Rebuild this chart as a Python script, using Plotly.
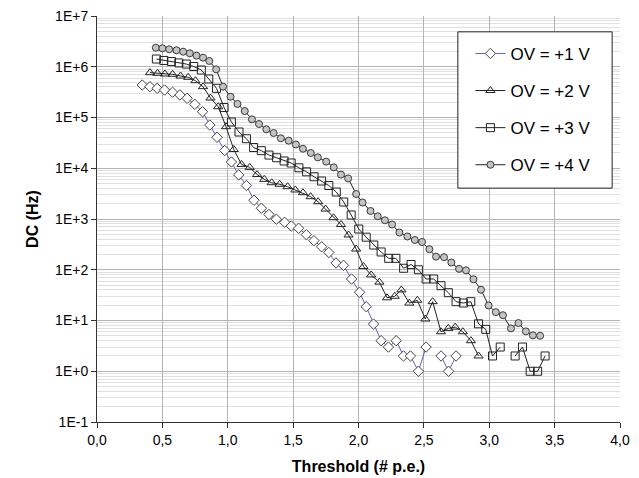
import plotly.graph_objects as go

# ---- data ----
x_ov1 = [0.346, 0.405, 0.460, 0.517, 0.578, 0.634, 0.689, 0.748, 0.807, 0.863,
         0.918, 0.977, 1.028, 1.084, 1.143, 1.201, 1.257, 1.315, 1.372, 1.435,
         1.486, 1.542, 1.601, 1.659, 1.718, 1.773, 1.828, 1.885, 1.947, 2.008,
         2.059, 2.115, 2.173, 2.229, 2.288, 2.344, 2.397, 2.458, 2.517, 2.573,
         2.631, 2.689, 2.746]
dc_ov1 = [4.37e5, 4.05e5, 3.76e5, 3.48e5, 3.14e5, 2.78e5, 2.39e5, 1.82e5, 1.30e5, 7.1e4,
          4.07e4, 2.24e4, 1.33e4, 7.4e3, 4.57e3, 2.34e3, 1.63e3, 1.23e3, 991, 861,
          728, 656, 491, 374, 284, 219, 136, 122, 65.7, 36,
          18.7, 8.5, 4, 3, 4, 2, 2, 1, 3, None,
          2, 1, 2]

x_ov2 = [0.405, 0.463, 0.519, 0.578, 0.639, 0.697, 0.753, 0.811, 0.868, 0.927,
         0.987, 1.046, 1.105, 1.168, 1.224, 1.279, 1.336, 1.397, 1.458, 1.517,
         1.575, 1.634, 1.691, 1.748, 1.809, 1.866, 1.924, 1.982, 2.038, 2.097,
         2.160, 2.218, 2.277, 2.328, 2.389, 2.450, 2.511, 2.567, 2.631, 2.687,
         2.740, 2.798, 2.860, 2.918]
dc_ov2 = [7.64e5, 7.43e5, 7.2e5, 7.1e5, 6.57e5, 6.19e5, 5.31e5, 4.05e5, 2.42e5, 1.63e5,
          6.59e4, 2.34e4, 1.19e4, 1.04e4, 7.53e3, 6.05e3, 5.19e3, 4.83e3, 4.33e3, 3.73e3,
          3.3e3, 2.75e3, 2.19e3, 1.57e3, 1.06e3, 780, 484, 256, 116, 79,
          57, 28, 30, 40, 22, 25, 10.7, 23.5, 6, 7,
          7.4, 6, 4, 2]

x_ov3 = [0.454, 0.511, 0.569, 0.626, 0.683, 0.740, 0.798, 0.855, 0.914, 0.972,
         1.028, 1.086, 1.143, 1.198, 1.257, 1.315, 1.374, 1.431, 1.485, 1.544,
         1.603, 1.660, 1.718, 1.773, 1.830, 1.887, 1.944, 2.002, 2.059, 2.117,
         2.173, 2.231, 2.286, 2.345, 2.402, 2.458, 2.517, 2.575, 2.631, 2.687,
         2.746, 2.802, 2.859, 2.918, 2.973, 3.025, 3.084, 3.141, 3.198, 3.254,
         3.313, 3.370, 3.427]
dc_ov3 = [1.42e6, 1.33e6, 1.27e6, 1.19e6, 1.13e6, 1.01e6, 8.63e5, 5.74e5, 3.76e5, 1.57e5,
          8.15e4, 5.18e4, 3.82e4, 2.56e4, 2.22e4, 1.82e4, 1.61e4, 1.39e4, 1.27e4, 1.02e4,
          8.5e3, 6.8e3, 5.6e3, 4.57e3, 3.4e3, 2.16e3, 1.2e3, 635, 438, 307,
          224, 168, 168, 107, 127, 100, 65.7, 65.7, 48.5, 35.3,
          23.5, 22.1, 23.5, 8.6, 6.7, 2, 3, None, 2, 3,
          1, 1, 2]

x_ov4 = [0.450, 0.500, 0.552, 0.608, 0.659, 0.710, 0.761, 0.811, 0.859, 0.911,
         0.964, 1.021, 1.074, 1.130, 1.185, 1.239, 1.295, 1.351, 1.406, 1.466,
         1.521, 1.575, 1.635, 1.689, 1.753, 1.811, 1.866, 1.921, 1.982, 2.031,
         2.092, 2.147, 2.202, 2.257, 2.313, 2.374, 2.431, 2.486, 2.542, 2.593,
         2.654, 2.710, 2.769, 2.822, 2.879, 2.937, 2.995, 3.050, 3.105, 3.166,
         3.223, 3.280, 3.334, 3.389]
dc_ov4 = [2.37e6, 2.31e6, 2.21e6, 2.11e6, 1.98e6, 1.84e6, 1.65e6, 1.51e6, 1.30e6, 8.9e5,
          4.05e5, 2.57e5, 1.85e5, 1.34e5, 9.2e4, 7.44e4, 5.85e4, 4.95e4, 3.89e4, 3.49e4,
          2.94e4, 2.42e4, 2.0e4, 1.64e4, 1.35e4, 1.04e4, 7.5e3, 6.3e3, 3.11e3, 2.11e3,
          1.44e3, 1.13e3, 943, 779, 542, 452, 386, 352, 254, 181,
          177, 139, 104, 97.5, 64.9, 40.4, 19.8, 14.6, 12.7, 7.0,
          8.9, 6.1, 5.1, 5.0]

series_names = ["OV = +1 V", "OV = +2 V", "OV = +3 V", "OV = +4 V"]

x_tick_vals = [0.0, 0.5, 1.0, 1.5, 2.0, 2.5, 3.0, 3.5, 4.0]
x_tick_text = ["0,0", "0,5", "1,0", "1,5", "2,0", "2,5", "3,0", "3,5", "4,0"]
y_tick_vals = [1e-1, 1e0, 1e1, 1e2, 1e3, 1e4, 1e5, 1e6, 1e7]
y_tick_text = ["1E-1", "1E+0", "1E+1", "1E+2", "1E+3", "1E+4", "1E+5", "1E+6", "1E+7"]

# ---- figure ----
fig = go.Figure()
styles = [
    dict(line=dict(color="#6060c8", width=1),
         marker=dict(symbol="diamond", size=8, color="white", line=dict(color="#444444", width=1))),
    dict(line=dict(color="#222222", width=1),
         marker=dict(symbol="triangle-up-open", size=8, color="#222222", line=dict(width=1))),
    dict(line=dict(color="#222222", width=1),
         marker=dict(symbol="square-open", size=8, color="#222222", line=dict(width=1))),
    dict(line=dict(color="#222222", width=1),
         marker=dict(symbol="circle", size=7, color="#c4c4c4", line=dict(color="#3a3a3a", width=1))),
]
data = [(x_ov1, dc_ov1), (x_ov2, dc_ov2), (x_ov3, dc_ov3), (x_ov4, dc_ov4)]
for i, ((xs, ys), name, st) in enumerate(zip(data, series_names, styles)):
    fig.add_trace(go.Scatter(x=xs, y=ys, name=name, mode="lines+markers",
                             legendgroup="g%d" % i, connectgaps=False, **st))

# legend frame (white box with dark border, drawn behind the legend entries)
fig.add_shape(type="rect", xref="paper", yref="paper",
              x0=0.690, x1=0.985, y0=0.576, y1=0.961,
              fillcolor="white", line=dict(color="#222222", width=1), layer="above")

fig.update_layout(
    width=631, height=470,
    margin=dict(l=89, r=19, t=8, b=56, autoexpand=False),
    paper_bgcolor="white", plot_bgcolor="white",
    font=dict(family="Liberation Sans, Arial, sans-serif", size=14, color="black"),
    legend=dict(x=0.714, y=0.951, xanchor="left", yanchor="top",
                bgcolor="rgba(0,0,0,0)", borderwidth=0,
                font=dict(size=17), tracegroupgap=12, itemwidth=30),
    xaxis=dict(range=[0, 4], tickvals=x_tick_vals, ticktext=x_tick_text,
               showgrid=True, gridcolor="#b4b4b4", gridwidth=1,
               showline=True, linecolor="#333333", linewidth=1,
               ticks="outside", ticklen=5, tickcolor="#333333",
               zeroline=False, ticklabeloverflow="allow",
               title=dict(text="<b>Threshold (# p.e.)</b>", font=dict(size=16), standoff=14)),
    yaxis=dict(type="log", range=[-1, 7], tickvals=y_tick_vals, ticktext=y_tick_text,
               showgrid=True, gridcolor="#b4b4b4", gridwidth=1,
               showline=True, linecolor="#333333", linewidth=1,
               ticks="outside", ticklen=5, tickcolor="#333333",
               zeroline=False, ticklabeloverflow="allow",
               minor=dict(dtick="D1", showgrid=True, gridcolor="#e0e0e0", ticks=""),
               title=dict(text="<b>DC (Hz)</b>", font=dict(size=16), standoff=12)),
)

fig.write_html("out.html")
